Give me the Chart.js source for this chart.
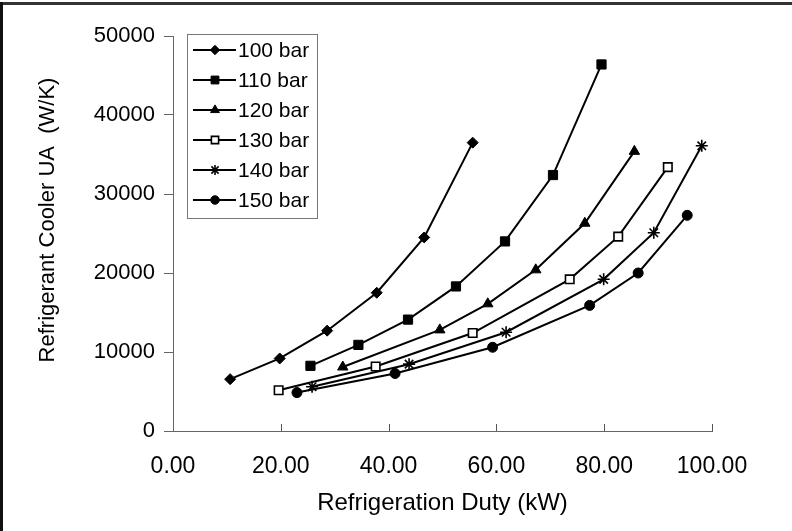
<!DOCTYPE html>
<html>
<head>
<meta charset="utf-8">
<script src="https://cdn.jsdelivr.net/npm/chart.js@4.4.0/dist/chart.umd.min.js"></script>
<style>
  html, body { margin: 0; padding: 0; background: #fff; }
  #wrap { width: 792px; height: 531px; position: relative; }
</style>
</head>
<body>
<div id="wrap"><canvas id="chart" width="792" height="531"></canvas></div>
<script>
// refrigeration duty (kW) and refrigerant cooler UA (W/K) per gas cooler pressure
const duty100 = [10.6, 19.8, 28.6, 37.8, 46.6, 55.6];
const ua100   = [6560, 9180, 12700, 17500, 24500, 36500];
const duty110 = [25.5, 34.4, 43.6, 52.5, 61.6, 70.5, 79.5];
const ua110   = [8250, 10900, 14100, 18300, 24000, 32400, 46400];
const duty120 = [31.5, 49.5, 58.4, 67.3, 76.4, 85.6];
const ua120   = [8100, 12800, 16100, 20400, 26300, 35400];
const duty130 = [19.6, 37.6, 55.6, 73.6, 82.6, 91.8];
const ua130   = [5160, 8160, 12400, 19200, 24600, 33400];
const duty140 = [25.8, 43.8, 61.8, 79.9, 89.2, 98.1];
const ua140   = [5600, 8460, 12500, 19200, 25100, 36100];
const duty150 = [23.0, 41.2, 59.3, 77.3, 86.3, 95.4];
const ua150   = [4860, 7280, 10600, 15900, 20000, 27300];

const seriesNames = ['100 bar', '110 bar', '120 bar', '130 bar', '140 bar', '150 bar'];
const xTicks = [0, 20, 40, 60, 80, 100];
const yTicks = [0, 10000, 20000, 30000, 40000, 50000];
const yTitle = 'Refrigerant Cooler UA  (W/K)';

const FONT = '"Liberation Sans", Arial, Helvetica, sans-serif';

const styles = [
  { pointStyle: 'rectRot',  radius: 5.5, fill: '#000', border: 1 },
  { pointStyle: 'rect',     radius: 6.5, fill: '#000', border: 1 },
  { pointStyle: 'triangle', radius: 6,   fill: '#000', border: 1 },
  { pointStyle: 'rect',     radius: 6,   fill: '#fff', border: 1.6 },
  { pointStyle: 'star',     radius: 6,   fill: '#000', border: 1.6 },
  { pointStyle: 'circle',   radius: 5,   fill: '#000', border: 1 }
];

const xs = [duty100, duty110, duty120, duty130, duty140, duty150];
const ys = [ua100, ua110, ua120, ua130, ua140, ua150];

const datasets = seriesNames.map((name, i) => ({
  label: name,
  data: xs[i].map((x, j) => ({ x: x, y: ys[i][j] })),
  showLine: true,
  borderColor: '#000',
  borderWidth: 2,
  pointStyle: styles[i].pointStyle,
  pointRadius: styles[i].radius,
  pointBackgroundColor: styles[i].fill,
  pointBorderColor: '#000',
  pointBorderWidth: styles[i].border,
  clip: false
}));

// white page, frame lines, inward x tick marks, y title
const frame = {
  id: 'frame',
  beforeDraw(chart) {
    const ctx = chart.ctx;
    ctx.save();
    ctx.fillStyle = '#fff';
    ctx.fillRect(0, 0, chart.width, chart.height);
    ctx.fillStyle = '#333';
    ctx.fillRect(0, 2, chart.width, 3);
    ctx.fillStyle = '#111';
    ctx.fillRect(0, 2, 3, chart.height);
    ctx.restore();
  },
  afterDraw(chart) {
    const ctx = chart.ctx;
    const sx = chart.scales.x;
    const bottom = chart.chartArea.bottom;
    ctx.save();
    ctx.strokeStyle = '#555';
    ctx.lineWidth = 1;
    xTicks.slice(1).forEach(v => {
      const px = Math.round(sx.getPixelForValue(v)) + 0.5;
      ctx.beginPath();
      ctx.moveTo(px, bottom);
      ctx.lineTo(px, bottom - 7);
      ctx.stroke();
    });
    ctx.translate(47.5, 220);
    ctx.rotate(-Math.PI / 2);
    ctx.fillStyle = '#000';
    ctx.font = '22px ' + FONT;
    ctx.textAlign = 'center';
    ctx.textBaseline = 'middle';
    ctx.fillText(yTitle, 0, 0);
    ctx.restore();
  }
};

// boxed legend with line-marker-line samples
const boxLegend = {
  id: 'boxLegend',
  afterDraw(chart) {
    const ctx = chart.ctx;
    const left = 187, top = 34, w = 130, h = 184, row = 30;
    ctx.save();
    ctx.strokeStyle = '#777';
    ctx.lineWidth = 1;
    ctx.strokeRect(left + 0.5, top + 0.5, w, h);
    ctx.font = '21px ' + FONT;
    ctx.textBaseline = 'middle';
    ctx.textAlign = 'left';
    seriesNames.forEach((name, i) => {
      const cy = top + 16 + i * row;
      ctx.strokeStyle = '#000';
      ctx.lineWidth = 2;
      ctx.beginPath();
      ctx.moveTo(193, cy);
      ctx.lineTo(236, cy);
      ctx.stroke();
      ctx.fillStyle = styles[i].fill;
      ctx.lineWidth = styles[i].border;
      Chart.helpers.drawPoint(ctx, {
        pointStyle: styles[i].pointStyle,
        radius: styles[i].radius * 0.85,
        rotation: 0,
        borderWidth: styles[i].border
      }, 215, cy);
      ctx.fillStyle = '#000';
      ctx.fillText(name, 238, cy + 1);
    });
    ctx.restore();
  }
};

new Chart(document.getElementById('chart'), {
  type: 'scatter',
  data: { datasets: datasets },
  options: {
    responsive: false,
    animation: false,
    layout: { padding: { left: 0, right: 80, top: 36, bottom: 0 } },
    plugins: {
      legend: { display: false },
      tooltip: { enabled: false }
    },
    scales: {
      x: {
        type: 'linear',
        min: 0,
        max: 100,
        afterBuildTicks: s => { s.ticks = xTicks.map(v => ({ value: v })); },
        afterFit: s => { s.height = 100; },
        grid: { display: false, drawTicks: false },
        border: { display: true, color: '#666', width: 1 },
        ticks: {
          padding: 22,
          color: '#000',
          font: { family: FONT, size: 23 },
          callback: v => v.toFixed(2)
        },
        title: {
          display: true,
          text: 'Refrigeration Duty (kW)',
          color: '#000',
          font: { family: FONT, size: 24 },
          padding: { top: 0, bottom: 13 }
        }
      },
      y: {
        type: 'linear',
        min: 0,
        max: 50000,
        afterBuildTicks: s => { s.ticks = yTicks.map(v => ({ value: v })); },
        afterFit: s => { s.width = 173; },
        grid: { drawOnChartArea: false, drawTicks: true, tickLength: 9, color: '#666' },
        border: { display: true, color: '#666', width: 1 },
        ticks: {
          padding: 9,
          color: '#000',
          font: { family: FONT, size: 22 },
          callback: v => String(v)
        },
        title: { display: false }
      }
    }
  },
  plugins: [frame, boxLegend]
});
</script>
</body>
</html>
